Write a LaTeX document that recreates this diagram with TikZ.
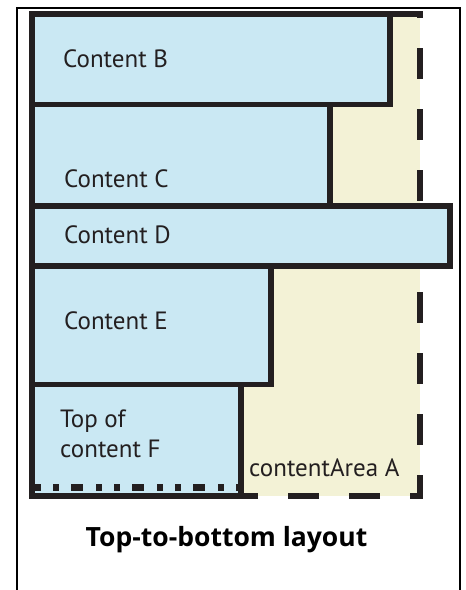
\documentclass[tikz,border=0pt]{standalone}
\usepackage{fontspec}
\setmainfont{PT Sans}
\newfontfamily\titlefont{Open Sans}
\usepackage{xcolor}
\definecolor{boxblue}{HTML}{CAE8F3}
\definecolor{areayellow}{HTML}{F3F2D6}
\definecolor{inkdark}{HTML}{231F20}

\begin{document}
\begin{tikzpicture}[x=1pt,y=-1pt,
  boxline/.style={draw=inkdark,line width=5.5pt},
  arealine/.style={draw=inkdark,line width=6pt,dash pattern=on 31pt off 30pt,dash phase=5pt},
  txt/.style={anchor=base west,inner sep=0pt,text=inkdark,font=\fontsize{25}{29}\selectfont}]
\useasboundingbox (0,0) rectangle (466,590);
\draw[line width=2pt] (17,590) -- (17,8) -- (460,8) -- (460,590);
% content area A
\fill[areayellow] (32,14) rectangle (420,496);
\draw[arealine] (32,14) -- (420,14) -- (420,496) -- (32,496);
% content B
\fill[boxblue] (32,14) rectangle (390,104.5);
\draw[boxline] (32,14) rectangle (390,104.5);
% content C
\fill[boxblue] (32,104.5) rectangle (330,206);
\draw[boxline] (32,104.5) rectangle (330,206);
% content D
\fill[boxblue] (32,206) rectangle (450,266);
\draw[boxline] (32,206) rectangle (450,266);
% content E
\fill[boxblue] (32,266) rectangle (271,384.5);
\draw[boxline] (32,266) rectangle (271,384.5);
% content F, cut off at the bottom
\fill[boxblue] (32,384.5) rectangle (241,496);
\draw[boxline] (32,496) -- (32,384.5) -- (241,384.5) -- (241,496);
\draw[inkdark,line width=6pt] (29.25,496) -- (243.75,496);
\draw[inkdark,line width=7pt,dash pattern=on 6pt off 12pt on 6pt off 12pt on 12pt off 13pt] (35,487.5) -- (238,487.5);
% labels
\node[txt] (lblB) at (63,67) {Content B};
\node[txt] (lblC) at (64,187) {Content C};
\node[txt] (lblD) at (64,243) {Content D};
\node[txt] (lblE) at (64,329) {Content E};
\node[txt] (lblFtop) at (60,427) {Top of};
\node[txt] (lblFbot) at (60,457) {content F};
\node[txt] (lblA) at (249,476) {contentArea A};
\node[anchor=base,inner sep=0pt,font=\fontsize{26.5}{30}\titlefont\bfseries] (title) at (226.5,546) {Top-to-bottom layout};
\end{tikzpicture}
\end{document}
